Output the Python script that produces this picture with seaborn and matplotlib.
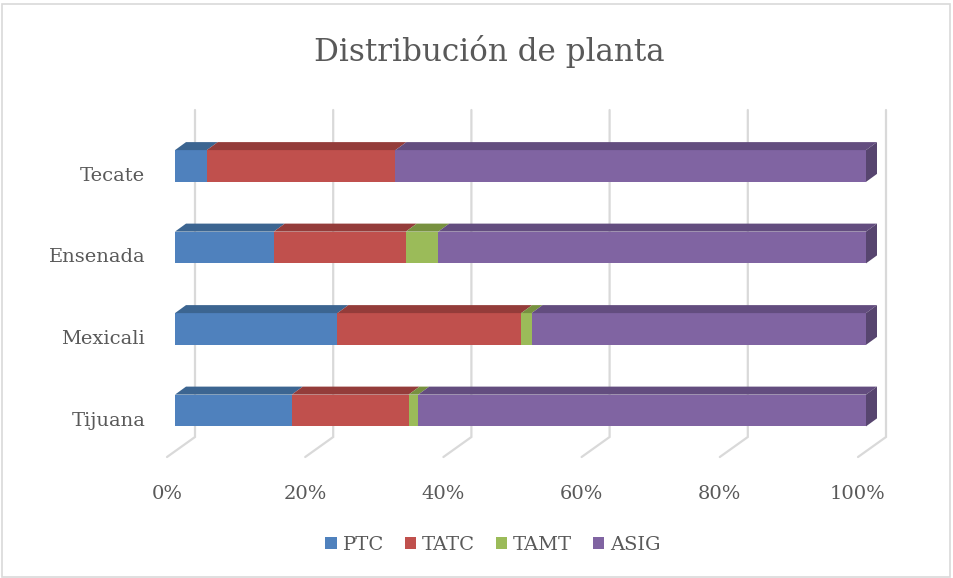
import numpy as np
import pandas as pd
import matplotlib
matplotlib.use("Agg")
import matplotlib.pyplot as plt
import seaborn as sns
from matplotlib.patches import Polygon, Patch, Rectangle

# ---- data ----
categories = ["Tecate", "Ensenada", "Mexicali", "Tijuana"]
series = ["PTC", "TATC", "TAMT", "ASIG"]
ptc = [4.6, 14.3, 23.5, 16.9]
tatc = [27.3, 19.1, 26.6, 16.9]
tamt = [0.0, 4.7, 1.5, 1.4]
asig = [68.1, 61.9, 48.4, 64.8]
tick_labels = ["0%", "20%", "40%", "60%", "80%", "100%"]

front_colors = ["#4F81BD", "#C0504D", "#9BBB59", "#8064A2"]
top_colors = ["#3C6591", "#943C3A", "#77913F", "#634D7F"]
side_color = "#57456F"
text_color = "#595959"
grid_color = "#D9D9D9"

sns.set_theme(style="white")
plt.rcParams["font.family"] = ["DejaVu Serif"]

vals = np.array([ptc, tatc, tamt, asig], dtype=float)
frac = vals / vals.sum(axis=0)
cum = np.cumsum(frac, axis=0)
starts = cum - frac

rows = []
for s_i, s in enumerate(series):
    for c_i, c in enumerate(categories):
        rows.append({"cat": c, "series": s, "end": cum[s_i, c_i]})
df = pd.DataFrame(rows)

W, H = 954, 578
fig = plt.figure(figsize=(W / 100, H / 100), dpi=100)
fig.patch.set_facecolor("white")
fig.add_artist(Rectangle((1.5 / W, 1.5 / H), (W - 5) / W, (H - 5) / H,
                         transform=fig.transFigure, fill=False,
                         edgecolor=grid_color, linewidth=1.2))

# axes geometry in pixels
px0, px1 = 155, 905      # axes left/right
py_top, py_bot = 100, 470
x0_px, x_scale = 175, 691.0       # pixel of 0%, px per unit
y0_px, y_scale = 166, 81.5        # pixel of first category, px per unit
ax = fig.add_axes([px0 / W, 1 - py_bot / H, (px1 - px0) / W, (py_bot - py_top) / H])

bw = 0.39
for s_i in range(len(series) - 1, -1, -1):
    sub = df[df["series"] == series[s_i]]
    sns.barplot(data=sub, x="end", y="cat", order=categories, color=front_colors[s_i],
                saturation=1, width=bw, linewidth=0, ax=ax, zorder=3, errorbar=None)

ax.set_xlim((px0 - x0_px) / x_scale, (px1 - x0_px) / x_scale)
ax.set_ylim((py_bot - y0_px) / y_scale, (py_top - y0_px) / y_scale)

ddx = 11 / x_scale
ddy = 8 / y_scale
h = bw / 2
for c_i in range(len(categories)):
    for s_i in range(len(series)):
        l, r = starts[s_i, c_i], cum[s_i, c_i]
        if r - l <= 0:
            continue
        top = [(l, c_i - h), (r, c_i - h), (r + ddx, c_i - h - ddy), (l + ddx, c_i - h - ddy)]
        ax.add_patch(Polygon(top, closed=True, facecolor=top_colors[s_i], edgecolor="none", zorder=4))
    side = [(1, c_i - h), (1 + ddx, c_i - h - ddy), (1 + ddx, c_i + h - ddy), (1, c_i + h)]
    ax.add_patch(Polygon(side, closed=True, facecolor=side_color, edgecolor="none", zorder=4))

# back-wall gridlines with floor diagonals
back_dx = 20 / x_scale
y_wall_top = (110 - y0_px) / y_scale
y_wall_bot = (437 - y0_px) / y_scale
y_floor = (457 - y0_px) / y_scale
floor_dx = 8 / x_scale
for k in range(6):
    x = k * 0.2
    ax.plot([x + back_dx, x + back_dx, x - floor_dx], [y_wall_top, y_wall_bot, y_floor],
            color=grid_color, linewidth=1.6, zorder=1, solid_joinstyle="miter")

ax.set_xticks([k * 0.2 - floor_dx for k in range(6)])
ax.set_xticklabels(tick_labels)
ax.set_yticks([i + ddy for i in range(len(categories))])
ax.set_yticklabels(categories)
ax.tick_params(axis="both", length=0, labelsize=14, colors=text_color)
ax.tick_params(axis="y", pad=7)
ax.tick_params(axis="x", pad=11)
ax.set_xlabel("")
ax.set_ylabel("")
for sp in ax.spines.values():
    sp.set_visible(False)
ax.set_facecolor("none")

fig.text(489 / W, 1 - 51 / H, "Distribución de planta", ha="center", va="center",
         fontsize=22.3, color=text_color)

handles = [Patch(facecolor=front_colors[i], edgecolor="none", label=series[i]) for i in range(4)]
fig.legend(handles=handles, loc="center", bbox_to_anchor=(493 / W, 1 - 545 / H), ncol=4,
           frameon=False, fontsize=14, handlelength=0.6, handleheight=0.6,
           handletextpad=0.3, columnspacing=1.05, labelcolor=text_color)

fig.savefig("out.png", dpi=100, facecolor="white")
